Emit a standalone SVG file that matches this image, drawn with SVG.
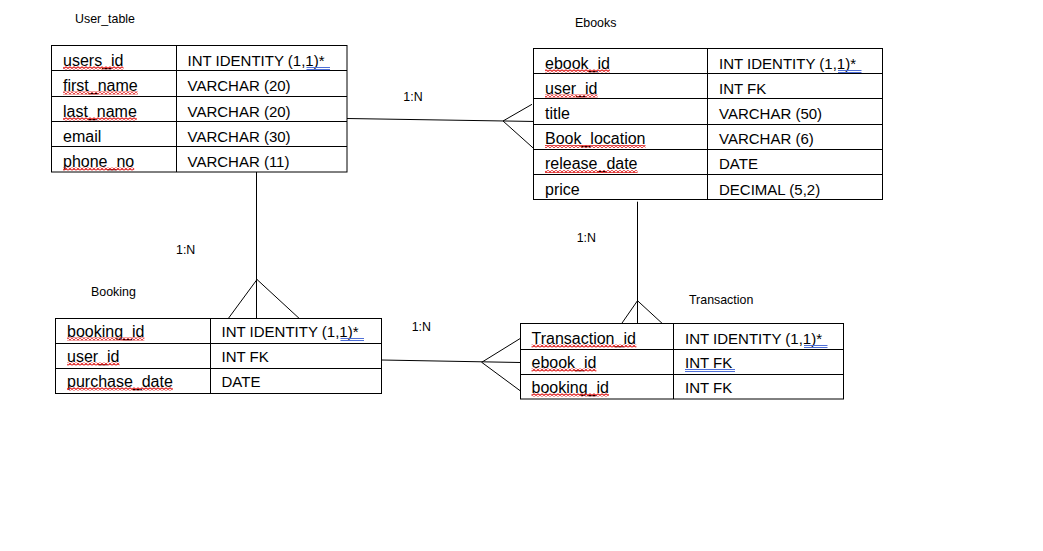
<svg xmlns="http://www.w3.org/2000/svg" width="1043" height="551" viewBox="0 0 1043 551">
<defs>
<pattern id="wave" patternUnits="userSpaceOnUse" x="0" y="0" width="4" height="3">
<path d="M0,2.6 L2,0.4 L4,2.6" fill="none" stroke="#e01c1c" stroke-width="1.2"/>
</pattern>
</defs>
<style>
.tb{fill:#fff;stroke:#000;stroke-width:1}
.ln{stroke:#000;stroke-width:1;fill:none}
.n{font-family:"Liberation Sans",Arial,sans-serif;font-size:16px;fill:#000}
.t{font-family:"Liberation Sans",Arial,sans-serif;font-size:15px;fill:#000}
.lb{font-family:"Liberation Sans",Arial,sans-serif;font-size:12.4px;fill:#000}
.sq{fill:url(#wave)}
.bu{stroke:#4f6fd6;stroke-width:1}
</style>
<rect width="1043" height="551" fill="#fff"/>

<g id="labels">
<text class="lb" x="75" y="23.3">User_table</text>
<text class="lb" x="575" y="26.5">Ebooks</text>
<text class="lb" x="91" y="296">Booking</text>
<text class="lb" x="689" y="304">Transaction</text>
<text class="lb" x="403.3" y="101">1:N</text>
<text class="lb" x="176" y="254">1:N</text>
<text class="lb" x="576.7" y="242.3">1:N</text>
<text class="lb" x="411.7" y="331">1:N</text>
</g>

<g id="connectors">
<line class="ln" x1="347" y1="118.5" x2="536" y2="121.5"/>
<line class="ln" x1="503" y1="121" x2="532" y2="104.3"/>
<line class="ln" x1="503" y1="121" x2="533.5" y2="148.3"/>
<line class="ln" x1="256.5" y1="172" x2="256.5" y2="318.5"/>
<line class="ln" x1="257" y1="279.5" x2="228.3" y2="318.5"/>
<line class="ln" x1="257" y1="279.5" x2="299.3" y2="318.5"/>
<line class="ln" x1="637.5" y1="201.7" x2="637.5" y2="323.5"/>
<line class="ln" x1="637.5" y1="300.7" x2="621.7" y2="323.5"/>
<line class="ln" x1="637.5" y1="300.7" x2="662.3" y2="323.5"/>
<line class="ln" x1="381.5" y1="360" x2="520.5" y2="362.5"/>
<line class="ln" x1="481.7" y1="362.3" x2="520.5" y2="338.3"/>
<line class="ln" x1="481.7" y1="362.3" x2="520.5" y2="391"/>
</g>

<g id="user_table">
<rect class="tb" x="51.5" y="45.5" width="295.5" height="126.5"/>
<path class="ln" d="M51.5,70.5H347M51.5,96.5H347M51.5,121.5H347M51.5,146.5H347M176.5,45.5V172"/>
<text class="n" x="63" y="65.5">users_id</text>
<text class="n" x="63" y="90.5">first_name</text>
<text class="n" x="63" y="116.5">last_name</text>
<text class="n" x="63" y="141.5">email</text>
<text class="n" x="63" y="166.5">phone_no</text>
<text class="t" x="187.5" y="65.5">INT IDENTITY (1,1)*</text>
<text class="t" x="187.5" y="90.5">VARCHAR (20)</text>
<text class="t" x="187.5" y="116.5">VARCHAR (20)</text>
<text class="t" x="187.5" y="141.5">VARCHAR (30)</text>
<text class="t" x="187.5" y="166.5">VARCHAR (11)</text>
<rect class="sq" x="63" y="66.5" width="60.5" height="3"/>
<rect class="sq" x="63" y="91.5" width="74.7" height="3"/>
<rect class="sq" x="63" y="117.5" width="73.8" height="3"/>
<rect class="sq" x="63" y="167.5" width="71.2" height="3"/>
<path class="bu" d="M306.5,67.5H330M306.5,69.5H330"/>
</g>

<g id="ebooks">
<rect class="tb" x="533.5" y="48.5" width="349" height="151"/>
<path class="ln" d="M533.5,73.5H882.5M533.5,98.5H882.5M533.5,124.5H882.5M533.5,149.5H882.5M533.5,174.5H882.5M707.5,48.5V199.5"/>
<text class="n" x="545" y="68.5">ebook_id</text>
<text class="n" x="545" y="93.5">user_id</text>
<text class="n" x="545" y="118.5">title</text>
<text class="n" x="545" y="144">Book_location</text>
<text class="n" x="545" y="169">release_date</text>
<text class="n" x="545" y="194.5">price</text>
<text class="t" x="719" y="68.5">INT IDENTITY (1,1)*</text>
<text class="t" x="719" y="93.5">INT FK</text>
<text class="t" x="719" y="118.5">VARCHAR (50)</text>
<text class="t" x="719" y="144">VARCHAR (6)</text>
<text class="t" x="719" y="169">DATE</text>
<text class="t" x="719" y="194.5">DECIMAL (5,2)</text>
<rect class="sq" x="545" y="69.5" width="64.9" height="3"/>
<rect class="sq" x="545" y="94.5" width="52.5" height="3"/>
<rect class="sq" x="545" y="145" width="100.5" height="3"/>
<rect class="sq" x="545" y="170" width="92.5" height="3"/>
<path class="bu" d="M838,70.5H861.5M838,72.5H861.5"/>
</g>

<g id="booking">
<rect class="tb" x="55.5" y="318.5" width="326" height="75"/>
<path class="ln" d="M55.5,343.5H381.5M55.5,368.5H381.5M210.5,318.5V393.5"/>
<text class="n" x="67" y="336.5">booking_id</text>
<text class="n" x="67" y="361.5">user_id</text>
<text class="n" x="67" y="386.5">purchase_date</text>
<text class="t" x="221.5" y="336.5">INT IDENTITY (1,1)*</text>
<text class="t" x="221.5" y="361.5">INT FK</text>
<text class="t" x="221.5" y="386.5">DATE</text>
<rect class="sq" x="67" y="337.5" width="77.4" height="3"/>
<rect class="sq" x="67" y="362.5" width="52.5" height="3"/>
<rect class="sq" x="67" y="387.5" width="105.8" height="3"/>
<path class="bu" d="M340.5,338.5H364M340.5,340.5H364"/>
</g>

<g id="transaction">
<rect class="tb" x="520.5" y="323.5" width="323" height="75.5"/>
<path class="ln" d="M520.5,349.5H843.5M520.5,374.5H843.5M673.5,323.5V399"/>
<text class="n" x="531.5" y="343.5">Transaction_id</text>
<text class="n" x="531.5" y="367.5">ebook_id</text>
<text class="n" x="531.5" y="392.5">booking_id</text>
<text class="t" x="685" y="343.5">INT IDENTITY (1,1)*</text>
<text class="t" x="685" y="367.5">INT FK</text>
<text class="t" x="685" y="392.5">INT FK</text>
<rect class="sq" x="531.5" y="344.5" width="104.9" height="3"/>
<rect class="sq" x="531.5" y="368.5" width="64.9" height="3"/>
<rect class="sq" x="531.5" y="393.5" width="77.4" height="3"/>
<path class="bu" d="M804,345.5H827.5M804,347.5H827.5M685,369.5H735M685,371.5H735"/>
</g>
</svg>
